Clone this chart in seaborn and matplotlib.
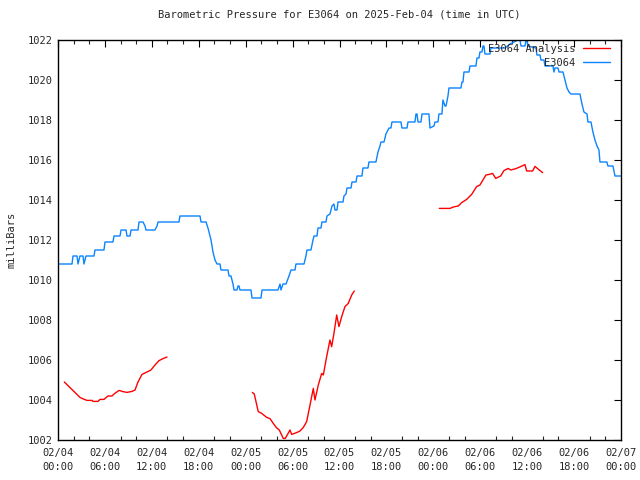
import numpy as np
import pandas as pd
import matplotlib
matplotlib.use("Agg")
import matplotlib.pyplot as plt
import matplotlib.dates as mdates
import seaborn as sns

start = pd.Timestamp("2025-02-04 00:00")

# E3064 observed pressure (hours since start, mbar)
obs_hours = [0.0, 1.79, 1.92, 2.43, 2.56, 2.69, 2.81, 3.2, 3.32, 3.58, 4.6, 4.73, 5.88, 6.01, 7.03, 7.16,
             7.93, 8.06, 8.7, 8.82, 9.21, 9.34, 10.23, 10.36, 10.87, 11.13, 11.25, 12.4, 12.66, 12.79,
             15.47, 15.6, 18.16, 18.29, 18.93, 19.18, 19.57, 19.82, 20.08, 20.33, 20.72, 20.84, 21.74,
             21.87, 22.12, 22.38, 22.51, 22.89, 23.02, 23.15, 23.27, 24.68, 24.81, 25.96, 26.09, 28.13,
             28.39, 28.52, 28.77, 29.16, 29.54, 29.8, 30.31, 30.43, 31.46, 31.71, 31.84, 32.35, 32.61,
             32.74, 33.12, 33.25, 33.63, 33.76, 34.27, 34.4, 34.78, 35.04, 35.29, 35.42, 35.68, 35.81,
             36.45, 36.57, 36.83, 36.96, 37.47, 37.6, 38.11, 38.24, 38.87, 39.0, 39.64, 39.77, 40.66,
             40.92, 41.18, 41.3, 41.69, 41.94, 42.33, 42.58, 42.71, 43.86, 43.99, 44.63, 44.76, 45.65,
             45.78, 45.91, 46.04, 46.42, 46.55, 47.44, 47.57, 48.08, 48.21, 48.59, 48.72, 49.1, 49.23,
             49.49, 49.62, 49.87, 50.0, 51.53, 51.66, 51.79, 51.92, 52.56, 52.69, 53.45, 53.58, 53.84,
             53.96, 54.22, 54.35, 54.47, 54.6, 55.24, 55.37, 57.16, 57.8, 58.82, 59.08, 59.21, 59.72,
             59.85, 59.97, 60.1, 61.13, 61.25, 61.64, 61.76, 62.15, 62.28, 63.3, 63.43, 63.56, 63.94,
             64.07, 64.58, 64.83, 65.09, 65.35, 65.6, 66.75, 67.01, 67.26, 67.65, 67.77, 68.16, 68.41,
             68.67, 68.93, 69.18, 69.31, 70.2, 70.33, 70.97, 71.23, 72.0]
obs_mbar = [1010.8, 1010.8, 1011.2, 1011.2, 1010.8, 1011.0, 1011.2, 1011.2, 1010.8, 1011.2, 1011.2, 1011.5,
            1011.5, 1011.9, 1011.9, 1012.2, 1012.2, 1012.5, 1012.5, 1012.2, 1012.2, 1012.5, 1012.5,
            1012.9, 1012.9, 1012.7, 1012.5, 1012.5, 1012.7, 1012.9, 1012.9, 1013.2, 1013.2, 1012.9,
            1012.9, 1012.6, 1012.0, 1011.4, 1011.0, 1010.8, 1010.8, 1010.5, 1010.5, 1010.2, 1010.2,
            1009.8, 1009.5, 1009.5, 1009.7, 1009.7, 1009.5, 1009.5, 1009.1, 1009.1, 1009.5, 1009.5,
            1009.8, 1009.5, 1009.8, 1009.8, 1010.2, 1010.5, 1010.5, 1010.8, 1010.8, 1011.2, 1011.5,
            1011.5, 1012.0, 1012.2, 1012.2, 1012.6, 1012.6, 1012.9, 1012.9, 1013.2, 1013.3, 1013.7,
            1013.8, 1013.5, 1013.5, 1013.9, 1013.9, 1014.2, 1014.3, 1014.6, 1014.6, 1014.9, 1014.9,
            1015.2, 1015.2, 1015.6, 1015.6, 1015.9, 1015.9, 1016.4, 1016.7, 1016.9, 1016.9, 1017.3,
            1017.6, 1017.6, 1017.9, 1017.9, 1017.6, 1017.6, 1017.9, 1017.9, 1018.3, 1018.3, 1017.9,
            1017.9, 1018.3, 1018.3, 1017.6, 1017.7, 1017.9, 1017.9, 1018.3, 1018.3, 1019.0, 1018.7,
            1018.7, 1019.2, 1019.6, 1019.6, 1019.9, 1019.9, 1020.4, 1020.4, 1020.7, 1020.7, 1021.1,
            1021.1, 1021.4, 1021.4, 1021.7, 1021.7, 1021.3, 1021.3, 1021.6, 1021.6, 1021.8, 1022.0,
            1022.0, 1021.7, 1021.7, 1022.0, 1022.0, 1021.7, 1021.6, 1021.25, 1021.25, 1021.0, 1021.0,
            1020.7, 1020.7, 1020.4, 1020.6, 1020.6, 1020.4, 1020.4, 1020.0, 1019.6, 1019.4, 1019.3,
            1019.3, 1018.8, 1018.4, 1018.3, 1017.9, 1017.9, 1017.4, 1017.0, 1016.7, 1016.5, 1015.9,
            1015.9, 1015.7, 1015.7, 1015.2, 1015.2]

# E3064 Analysis (three separate runs)
ana1_hours = [0.81, 2.81, 3.24, 3.71, 4.35, 4.48, 5.12, 5.37, 5.88, 6.39, 6.91, 7.16, 7.8, 8.31, 8.82,
              9.46, 9.85, 10.23, 10.74, 11.38, 11.89, 12.4, 12.92, 13.43, 13.94]
ana1_mbar = [1004.9, 1004.13, 1004.05, 1003.98, 1003.98, 1003.93, 1003.93, 1004.03, 1004.03, 1004.2,
             1004.2, 1004.3, 1004.48, 1004.42, 1004.38, 1004.43, 1004.5, 1004.9, 1005.28, 1005.4,
             1005.5, 1005.75, 1005.97, 1006.07, 1006.15]
ana2_hours = [24.85, 25.1, 25.61, 26.05, 26.69, 27.11, 27.53, 27.97, 28.3, 28.81, 29.07, 29.67, 29.88,
              30.52, 30.95, 31.37, 31.8, 32.23, 32.65, 32.86, 33.29, 33.72, 33.93, 34.36, 34.78, 35.0,
              35.29, 35.64, 35.93, 36.28, 36.7, 37.12, 37.56, 37.89]
ana2_mbar = [1004.38, 1004.3, 1003.42, 1003.33, 1003.13, 1003.07, 1002.83, 1002.6, 1002.5, 1002.08,
             1002.08, 1002.5, 1002.28, 1002.37, 1002.45, 1002.63, 1002.92, 1003.75, 1004.58, 1004.0,
             1004.75, 1005.33, 1005.25, 1006.17, 1007.0, 1006.67, 1007.33, 1008.25, 1007.67, 1008.17,
             1008.67, 1008.83, 1009.25, 1009.45]
ana3_hours = [48.76, 50.13, 50.55, 51.19, 51.62, 52.26, 52.9, 53.54, 53.96, 54.73, 55.15, 55.59, 55.97,
              56.61, 57.03, 57.58, 57.89, 58.57, 59.17, 59.72, 59.94, 60.7, 61.0, 61.55, 61.98]
ana3_mbar = [1013.58, 1013.58, 1013.65, 1013.7, 1013.87, 1014.03, 1014.28, 1014.67, 1014.75, 1015.25,
             1015.28, 1015.33, 1015.08, 1015.2, 1015.47, 1015.58, 1015.5, 1015.57, 1015.67, 1015.77,
             1015.45, 1015.45, 1015.68, 1015.5, 1015.37]

series_labels = ["E3064 Analysis", "E3064"]

obs = pd.DataFrame({"time": start + pd.to_timedelta(obs_hours, unit="h"), "mbar": obs_mbar})
ana = pd.concat([
    pd.DataFrame({"time": start + pd.to_timedelta(h, unit="h"), "mbar": v, "seg": i})
    for i, (h, v) in enumerate([(ana1_hours, ana1_mbar), (ana2_hours, ana2_mbar), (ana3_hours, ana3_mbar)])
], ignore_index=True)

sns.set_style("white")
plt.rcParams["font.family"] = ["DejaVu Sans Mono"]
plt.rcParams["font.size"] = 7.5

fig = plt.figure(figsize=(6.4, 4.8), dpi=100)
ax = fig.add_axes([58 / 640, 40 / 480, 563 / 640, 400 / 480])

sns.lineplot(data=ana, x="time", y="mbar", units="seg", estimator=None, sort=False,
             color="#ff0000", lw=1.0, ax=ax, label=series_labels[0])
sns.lineplot(data=obs, x="time", y="mbar", estimator=None, sort=False,
             color="#0a84ff", lw=1.0, ax=ax, label=series_labels[1])

ax.set_xlim(start, start + pd.Timedelta(hours=72))
ax.set_ylim(1002, 1022)
ax.set_yticks(np.arange(1002, 1023, 2))
ax.xaxis.set_major_locator(mdates.HourLocator(byhour=[0, 6, 12, 18]))
ax.xaxis.set_minor_locator(mdates.HourLocator(interval=2))
ax.xaxis.set_major_formatter(mdates.DateFormatter("%m/%d\n%H:%M"))
ax.tick_params(axis="both", which="major", direction="in", length=5, width=0.8,
               top=True, right=True, labelsize=7.5, color="black", pad=4)
ax.tick_params(axis="x", which="major", pad=6)
ax.tick_params(axis="x", which="minor", direction="in", length=3, width=0.8, top=True, bottom=True)
for lab in ax.get_xticklabels():
    lab.set_linespacing(1.5)
for s in ax.spines.values():
    s.set_color("black")
    s.set_linewidth(1.0)

ax.set_xlabel("")
ax.set_ylabel("milliBars", fontsize=7.5, labelpad=8)
ax.set_title("Barometric Pressure for E3064 on 2025-Feb-04 (time in UTC)", fontsize=7.5, pad=16)

handles, labels = ax.get_legend_handles_labels()
uniq = {}
for h, l in zip(handles, labels):
    if l not in uniq:
        uniq[l] = h
ax.legend([uniq[l] for l in series_labels], series_labels,
          loc="upper right", bbox_to_anchor=(0.997, 1.014), frameon=False, markerfirst=False,
          handlelength=2.6, handletextpad=0.75, labelspacing=0.4, fontsize=7.5)

fig.savefig("out.png", dpi=100)
